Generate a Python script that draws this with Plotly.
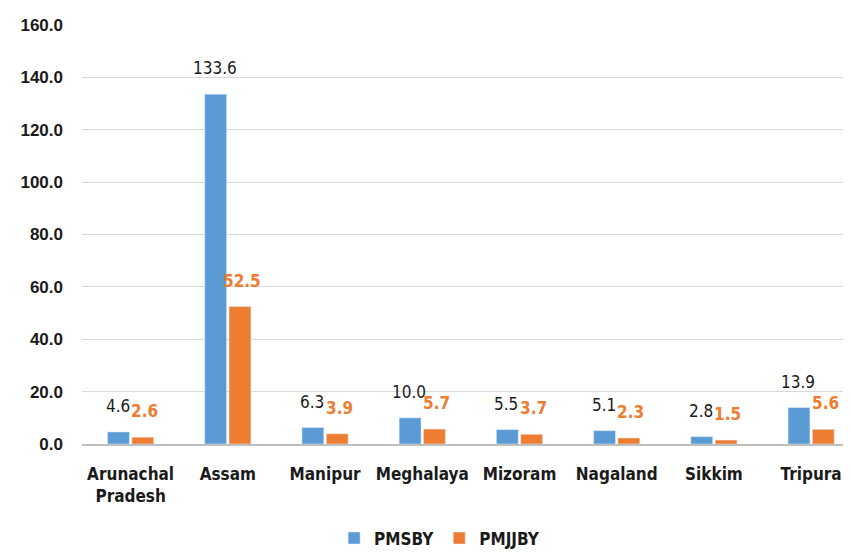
import plotly.graph_objects as go

# Data
states = ["Arunachal<br>Pradesh", "Assam", "Manipur", "Meghalaya",
          "Mizoram", "Nagaland", "Sikkim", "Tripura"]
pmsby = [4.6, 133.6, 6.3, 10.0, 5.5, 5.1, 2.8, 13.9]
pmjjby = [2.6, 52.5, 3.9, 5.7, 3.7, 2.3, 1.5, 5.6]

blue = "#5B9BD5"
orange = "#ED7D31"
narrow = "Liberation Sans Narrow, Arial Narrow, DejaVu Sans Condensed, sans-serif"

fig = go.Figure()
fig.add_trace(go.Bar(x=states, y=pmsby, name="<b>PMSBY</b>", marker_color=blue))
fig.add_trace(go.Bar(x=states, y=pmjjby, name="<b>PMJJBY</b>", marker_color=orange))

# Data labels sit a bit above each bar
for s, v in zip(states, pmsby):
    fig.add_annotation(x=s, y=v, text=f"{v:.1f}", showarrow=False,
                       xshift=-13, yshift=14, yanchor="bottom",
                       font=dict(family=narrow, size=17, color="#1a1a1a"))
for s, v in zip(states, pmjjby):
    fig.add_annotation(x=s, y=v, text=f"<b>{v:.1f}</b>", showarrow=False,
                       xshift=14, yshift=14, yanchor="bottom",
                       font=dict(family=narrow, size=17, color=orange))

# page body adds an 8px margin, so the figure is sized to fit the window
fig.update_layout(
    width=843, height=548,
    margin=dict(l=74, r=0, t=17, b=112),
    plot_bgcolor="white",
    paper_bgcolor="white",
    barmode="group",
    bargap=0.5,
    bargroupgap=0.1,
    showlegend=True,
    legend=dict(orientation="h", x=0.465, xanchor="center",
                yref="container", y=0.032, yanchor="middle",
                font=dict(family=narrow, size=17, color="#1a1a1a")),
)

fig.update_yaxes(
    range=[0, 160], dtick=20, tickformat=".1f",
    showgrid=True, gridcolor="#d9d9d9", gridwidth=1,
    zeroline=False, showline=False, automargin=False,
    tickfont=dict(family="Liberation Sans, Arial, sans-serif", size=17, color="#1a1a1a"),
    ticklabelstandoff=18,
    tickprefix="<b>", ticksuffix="</b>",
)

fig.update_xaxes(
    range=[-0.5, 7.41], automargin=False,
    showline=True, linecolor="#bfbfbf", linewidth=1.5,
    tickfont=dict(family=narrow, size=17, color="#1a1a1a"),
    ticklabelstandoff=14,
    ticktext=[f"<b>{s}</b>" for s in states], tickvals=states,
)

fig.write_html("out.html")
